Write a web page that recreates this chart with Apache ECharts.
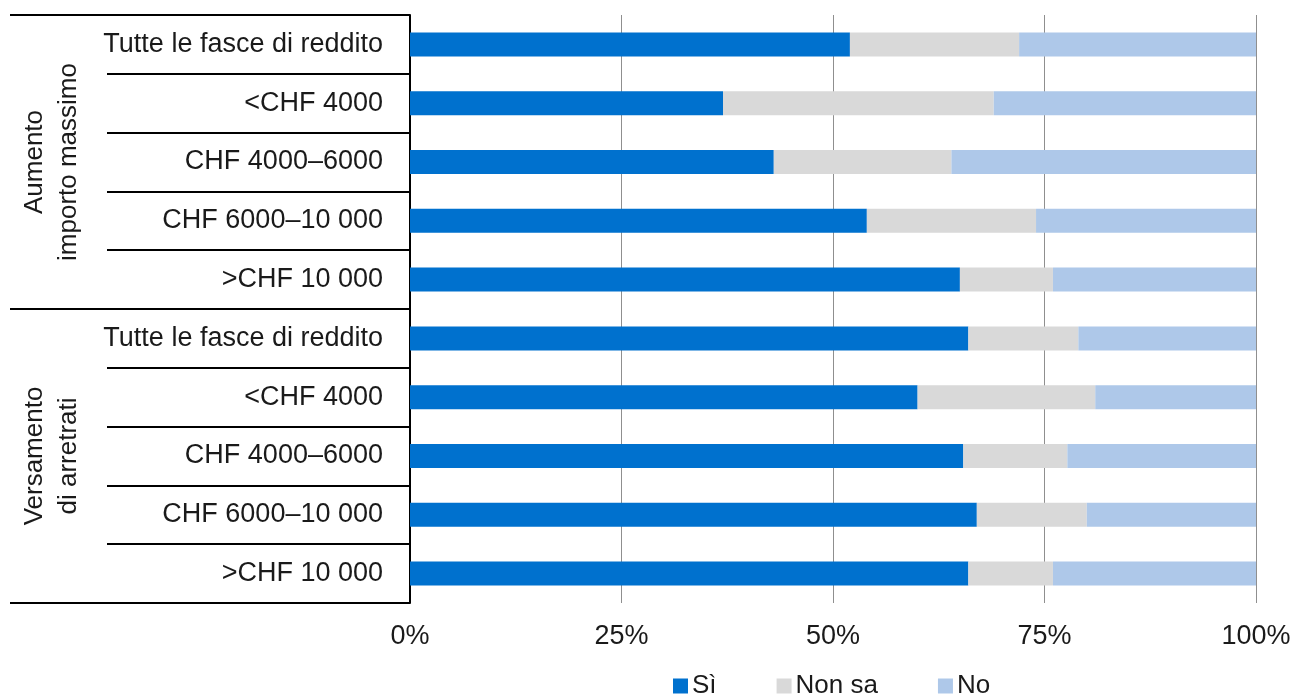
<!DOCTYPE html>
<html>
<head>
<meta charset="utf-8">
<script src="https://cdn.jsdelivr.net/npm/echarts@6/dist/echarts.min.js"></script>
<style>
html,body{margin:0;padding:0;background:#fff;}
#chart{width:1294px;height:695px;}
</style>
</head>
<body>
<div id="chart"></div>
<script>
const categories = [
  'Tutte le fasce di reddito', '<CHF 4000', 'CHF 4000–6000', 'CHF 6000–10 000', '>CHF 10 000',
  'Tutte le fasce di reddito ', '<CHF 4000 ', 'CHF 4000–6000 ', 'CHF 6000–10 000 ', '>CHF 10 000 '
];
const groups = ['Aumento\nimporto massimo', 'Versamento\ndi arretrati'];
const seriesNames = ['Sì', 'Non sa', 'No'];
const si    = [52, 37, 43, 54, 65, 66, 60, 65.4, 67, 66];
const nonSa = [20, 32, 21, 20, 11, 13, 21, 12.3, 13, 10];
const no    = [28, 31, 36, 26, 24, 21, 19, 22.3, 20, 24];
const xTicks = [0, 25, 50, 75, 100];

const FONT = '"Liberation Sans", Arial, sans-serif';
const colors = ['#0071CE', '#D9D9D9', '#AEC8E9'];

const chart = echarts.init(document.getElementById('chart'));
chart.setOption({
  animation: false,
  textStyle: { fontFamily: FONT, color: '#1a1a1a' },
  grid: { left: 410, right: 38, top: 15, bottom: 92, containLabel: false },
  legend: {
    left: 668, top: 668, itemWidth: 15, itemHeight: 15, itemGap: 60, icon: 'rect',
    textStyle: { fontSize: 26, color: '#1a1a1a', fontFamily: FONT, padding: [0,0,0,-1] },
    data: seriesNames
  },
  xAxis: {
    type: 'value', min: xTicks[0], max: xTicks[xTicks.length-1], interval: 25,
    axisLine: { show: false }, axisTick: { show: false },
    splitLine: { show: true, lineStyle: { color: '#8f8f8f', width: 1 } },
    axisLabel: { formatter: '{value}%', fontSize: 27, color: '#1a1a1a', margin: 20, fontFamily: FONT }
  },
  yAxis: [
    {
      type: 'category', data: categories, inverse: true,
      axisLine: { show: true, lineStyle: { color: '#000', width: 2 } },
      axisTick: { show: true, interval: 0, length: 303, lineStyle: { color: '#000', width: 2 } },
      axisLabel: { fontSize: 27, color: '#1a1a1a', margin: 27, fontFamily: FONT, interval: 0,
        formatter: v => v.trim() }
    },
    {
      type: 'category', data: groups, inverse: true, position: 'left',
      axisLine: { show: false },
      axisTick: { show: true, interval: 0, length: 400, lineStyle: { color: '#000', width: 2 } },
      axisLabel: { rotate: 90, fontSize: 26, lineHeight: 34, color: '#1a1a1a', margin: 324, fontFamily: FONT, interval: 0 }
    }
  ],
  series: [si, nonSa, no].map((d, i) => ({
    name: seriesNames[i], type: 'bar', stack: 'total', data: d, barWidth: 24, yAxisIndex: 0,
    itemStyle: { color: colors[i] }
  }))
});
</script>
</body>
</html>
